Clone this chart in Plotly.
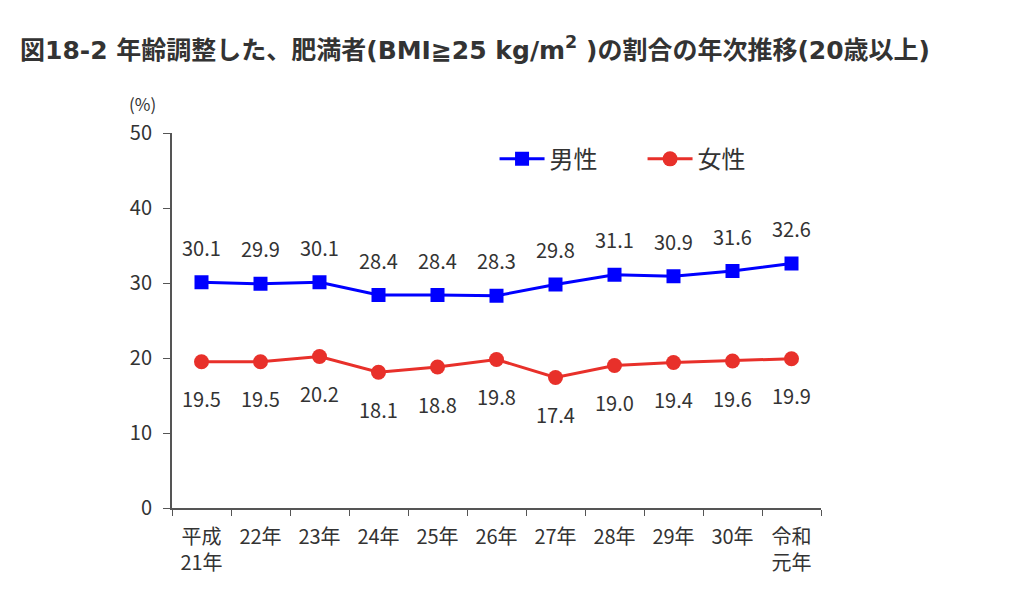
import plotly.graph_objects as go

# 年次（x軸カテゴリ）
years = ['平成<br>21年', '22年', '23年', '24年', '25年', '26年',
         '27年', '28年', '29年', '30年', '令和<br>元年']
# 肥満者の割合（%）
male = [30.1, 29.9, 30.1, 28.4, 28.4, 28.3, 29.8, 31.1, 30.9, 31.6, 32.6]
female = [19.5, 19.5, 20.2, 18.1, 18.8, 19.8, 17.4, 19.0, 19.4, 19.6, 19.9]
y_ticks = [0, 10, 20, 30, 40, 50]

font_jp = 'Noto Sans CJK JP'
text_color = '#333333'

fig = go.Figure()
fig.add_trace(go.Scatter(
    x=years, y=male, name='男性', mode='lines+markers',
    line=dict(color='#0000ff', width=3),
    marker=dict(symbol='square', size=14, color='#0000ff')))
fig.add_trace(go.Scatter(
    x=years, y=female, name='女性', mode='lines+markers',
    line=dict(color='#e8302a', width=3),
    marker=dict(symbol='circle', size=15, color='#e8302a')))

# データラベル（男性は上、女性は下）
annotations = []
for x, v in zip(years, male):
    annotations.append(dict(x=x, y=v, text='{:.1f}'.format(v), showarrow=False,
                            yshift=35, font=dict(size=20, color=text_color)))
for x, v in zip(years, female):
    annotations.append(dict(x=x, y=v, text='{:.1f}'.format(v), showarrow=False,
                            yshift=-37, font=dict(size=20, color=text_color)))
# 単位
annotations.append(dict(x=-0.045, y=1.0, xref='paper', yref='paper', yshift=15,
                        text='(%)', showarrow=False, xanchor='center', yanchor='bottom',
                        font=dict(size=17, color=text_color)))

fig.update_layout(
    width=1024, height=611,
    margin=dict(l=164, r=211, t=125, b=111),
    paper_bgcolor='white', plot_bgcolor='white',
    font=dict(family=font_jp, color=text_color),
    title=dict(text='<b>図18-2 年齢調整した、肥満者(BMI≧25 kg/m<sup>2</sup> )の割合の年次推移(20歳以上)</b>',
               xref='container', yref='container', x=12 / 1024, y=1 - 42 / 611,
               xanchor='left', yanchor='middle',
               font=dict(family='DejaVu Sans, ' + font_jp, size=25, color=text_color)),
    showlegend=True,
    legend=dict(orientation='h', x=0.497, y=0.93, xanchor='left', yanchor='middle',
                font=dict(size=24, color=text_color), itemwidth=45,
                entrywidth=88, bgcolor='rgba(0,0,0,0)'),
    annotations=annotations,
)
fig.update_xaxes(type='category', showline=True, linecolor='#555555', linewidth=2,
                 ticks='outside', ticklen=6, tickcolor='#555555', tickson='boundaries',
                 ticklabelstandoff=10,
                 tickfont=dict(size=20, color=text_color), showgrid=False, range=[-0.5, 10.5])
fig.update_yaxes(range=[0, 50], tickvals=y_ticks, showline=True, linecolor='#555555',
                 linewidth=2, ticks='outside', ticklen=7, tickcolor='#555555',
                 ticklabelstandoff=7,
                 tickfont=dict(size=20, color=text_color), showgrid=False, zeroline=False)

fig.write_html('out.html')
